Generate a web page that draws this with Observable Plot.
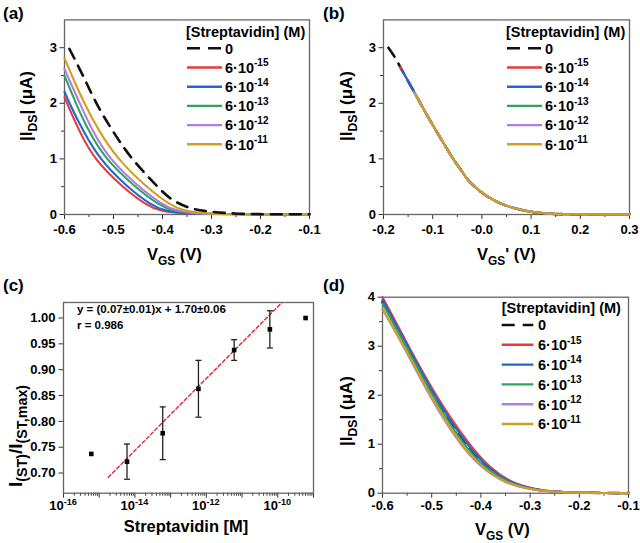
<!DOCTYPE html>
<html><head><meta charset="utf-8">
<script src="https://cdn.jsdelivr.net/npm/d3@7"></script>
<script src="https://cdn.jsdelivr.net/npm/@observablehq/plot@0.6"></script>
<style>
html,body{margin:0;padding:0;background:#fff;}
#fig{position:relative;width:640px;height:543px;overflow:hidden;background:#fff;}
.panel{position:absolute;}
.panel svg{display:block;max-width:none;}
</style></head><body><div id="fig"></div><script>
// ---------- shared ----------
const seriesLabels = ["0", "6·10", "6·10", "6·10", "6·10", "6·10"];
const seriesExp = ["", "-15", "-14", "-13", "-12", "-11"];
const seriesColors = ["#111111", "#e8393a", "#1f66d9", "#2fa35f", "#b07ee0", "#d2a01e"];

// ---------- panel (a): |I_DS| vs V_GS ----------
const aV0 = [-0.59, -0.562, -0.536, -0.502, -0.464, -0.410, -0.386, -0.345, -0.304, -0.253, -0.2, -0.15, -0.1];
const aI0 = [2.98, 2.5, 2.0, 1.5, 1.0, 0.5, 0.28, 0.10, 0.05, 0.013, 0.005, 0.004, 0.003];
const aV1 = [-0.6, -0.595, -0.570, -0.540, -0.483, -0.432, -0.405, -0.371, -0.30, -0.2, -0.1];
const aI1 = [2.11, 2.0, 1.5, 1.0, 0.5, 0.16, 0.07, 0.024, 0.006, 0.003, 0.002];
const aV2 = [-0.6, -0.590, -0.562, -0.529, -0.473, -0.422, -0.395, -0.361, -0.30, -0.2, -0.1];
const aI2 = [2.21, 2.0, 1.5, 1.0, 0.5, 0.16, 0.07, 0.024, 0.006, 0.003, 0.002];
const aV3 = [-0.6, -0.577, -0.551, -0.517, -0.457, -0.406, -0.379, -0.345, -0.29, -0.2, -0.1];
const aI3 = [2.50, 2.0, 1.5, 1.0, 0.5, 0.16, 0.07, 0.024, 0.007, 0.003, 0.002];
const aV4 = [-0.6, -0.569, -0.543, -0.509, -0.449, -0.398, -0.371, -0.337, -0.29, -0.2, -0.1];
const aI4 = [2.62, 2.0, 1.5, 1.0, 0.5, 0.16, 0.07, 0.024, 0.007, 0.003, 0.002];
const aV5 = [-0.6, -0.585, -0.560, -0.530, -0.492, -0.434, -0.383, -0.356, -0.322, -0.28, -0.2, -0.1];
const aI5 = [2.81, 2.5, 2.0, 1.5, 1.0, 0.5, 0.16, 0.07, 0.024, 0.008, 0.003, 0.002];
const aXTicks = [-0.6, -0.5, -0.4, -0.3, -0.2, -0.1];
const aXTickLabels = ["-0.6", "-0.5", "-0.4", "-0.3", "-0.2", "-0.1"];
const aXMinor = [-0.55, -0.45, -0.35, -0.25, -0.15];
const abYTicks = [0, 1, 2, 3];
const abYTickLabels = ["0", "1", "2", "3"];
const abYMinor = [0.5, 1.5, 2.5];

// ---------- panel (b): |I_DS| vs V_GS' ----------
const bMasterV = [-0.164, -0.150, -0.130, -0.113, -0.096, -0.079, -0.062, -0.045, -0.029, -0.012, 0.005, 0.022, 0.039, 0.056, 0.073, 0.090, 0.107, 0.125, 0.148, 0.2, 0.25, 0.3];
const bMasterI = [2.62, 2.40, 2.08, 1.81, 1.55, 1.30, 1.05, 0.83, 0.63, 0.48, 0.36, 0.27, 0.195, 0.14, 0.10, 0.065, 0.04, 0.022, 0.01, 0.004, 0.003, 0.003];
const bDashTopV = [-0.19, -0.175];
const bDashTopI = [3.00, 2.80];
const bStartV = [-0.175, -0.166, -0.163, -0.139, -0.137, -0.136];
const bStartI = [2.80, 2.65, 2.605, 2.22, 2.19, 2.17];
const bXTicks = [-0.2, -0.1, 0.0, 0.1, 0.2, 0.3];
const bXTickLabels = ["-0.2", "-0.1", "-0.0", "0.1", "0.2", "0.3"];
const bXMinor = [-0.15, -0.05, 0.05, 0.15, 0.25];

// ---------- panel (c): calibration ----------
const cConc = [6e-16, 6e-15, 6e-14, 6e-13, 6e-12, 6e-11, 6e-10];
const cRatio = [0.737, 0.722, 0.777, 0.863, 0.938, 0.978, 1.000];
const cErr = [null, 0.034, 0.051, 0.055, 0.020, 0.036, null];
const cFitX = [1.8e-15, 1.3e-10];
const cFitY = [0.692, 1.030];
const cYTicks = [0.70, 0.75, 0.80, 0.85, 0.90, 0.95, 1.00];
const cYTickLabels = ["0.70", "0.75", "0.80", "0.85", "0.90", "0.95", "1.00"];
const cXLabelTicks = [1e-16, 1e-14, 1e-12, 1e-10];
const cXLabelExp = ["-16", "-14", "-12", "-10"];
const cXDecades = [1e-16, 1e-15, 1e-14, 1e-13, 1e-12, 1e-11, 1e-10, 1e-9];
const cEquation = "y = (0.07±0.01)x + 1.70±0.06";
const cR = "r = 0.986";

// ---------- panel (d): |I_DS| vs V_GS (second device) ----------
const dV0 = [-0.6, -0.551, -0.498, -0.434, -0.389, -0.342, -0.296, -0.254, -0.2, -0.15, -0.1];
const dI0 = [3.90, 3.0, 2.0, 1.0, 0.5, 0.2, 0.08, 0.03, 0.01, 0.003, 0.002];
const dV1 = [-0.6, -0.547, -0.493, -0.425, -0.381, -0.335, -0.29, -0.25, -0.2, -0.15, -0.1];
const dI1 = [4.00, 3.0, 2.0, 1.0, 0.5, 0.2, 0.08, 0.03, 0.01, 0.003, 0.002];
const dV2 = [-0.6, -0.549, -0.496, -0.430, -0.385, -0.339, -0.293, -0.252, -0.2, -0.15, -0.1];
const dI2 = [3.95, 3.0, 2.0, 1.0, 0.5, 0.2, 0.08, 0.03, 0.01, 0.003, 0.002];
const dV3 = [-0.6, -0.552, -0.500, -0.437, -0.391, -0.344, -0.298, -0.256, -0.2, -0.15, -0.1];
const dI3 = [3.87, 3.0, 2.0, 1.0, 0.5, 0.2, 0.08, 0.03, 0.01, 0.003, 0.002];
const dV4 = [-0.6, -0.557, -0.506, -0.444, -0.398, -0.350, -0.303, -0.259, -0.2, -0.15, -0.1];
const dI4 = [3.75, 3.0, 2.0, 1.0, 0.5, 0.2, 0.08, 0.03, 0.01, 0.003, 0.002];
const dV5 = [-0.6, -0.556, -0.504, -0.442, -0.396, -0.348, -0.301, -0.258, -0.2, -0.15, -0.1];
const dI5 = [3.77, 3.0, 2.0, 1.0, 0.5, 0.2, 0.08, 0.03, 0.01, 0.003, 0.002];
const dYTicks = [0, 1, 2, 3, 4];
const dYTickLabels = ["0", "1", "2", "3", "4"];
const dYMinor = [0.5, 1.5, 2.5, 3.5];

// ---------- helpers ----------
const FONT = '"Liberation Sans", Arial, Helvetica, sans-serif';
const fig = document.getElementById("fig");
const baseStyle = {fontFamily: FONT, fontSize: "13px", fontWeight: "bold", color: "#000", background: "transparent", overflow: "visible"};
const AXIS_STROKE = "#333";
const FRAME_STROKE = "#666";

function rows(vs, is, k) { return vs.map((v, j) => ({v, i: is[j], k})); }
function lookup(ticks, labels) { return d => labels[ticks.indexOf(d)]; }

function place(svg, left, top) {
  const wrap = document.createElement("div");
  wrap.className = "panel";
  wrap.style.left = left + "px";
  wrap.style.top = top + "px";
  wrap.appendChild(svg);
  fig.appendChild(wrap);
  return svg;
}

function rich(svg, x, y, parts, size, anchor = "start", rotate = 0) {
  const t = d3.select(svg).append("text")
    .attr("transform", `translate(${x},${y}) rotate(${rotate})`)
    .attr("text-anchor", anchor)
    .attr("font-family", FONT).attr("font-weight", "bold")
    .attr("font-size", size).attr("fill", "#000");
  let shift = 0;
  for (const [s, kind, scale] of parts) {
    const sub = scale || 0.72;
    const target = kind === "sub" ? size * 0.28 : kind === "sup" ? -size * 0.42 : 0;
    const ts = t.append("tspan").attr("dy", target - shift).text(s);
    if (kind) ts.attr("font-size", size * sub);
    shift = target;
  }
  return t;
}

function legend(svg, x0, yTitle, rowY0, rowStep, lx1, lx2, tx) {
  const g = d3.select(svg).append("g")
    .attr("text-anchor", "start")
    .attr("font-family", FONT).attr("font-weight", "bold").attr("font-size", 14.5).attr("fill", "#000");
  g.append("text").attr("x", x0).attr("y", yTitle).text("[Streptavidin] (M)");
  seriesLabels.forEach((lab, k) => {
    const y = rowY0 + k * rowStep;
    g.append("line").attr("x1", lx1).attr("x2", lx2).attr("y1", y).attr("y2", y)
      .attr("stroke", seriesColors[k]).attr("stroke-width", k === 0 ? 2.6 : 2.4)
      .attr("stroke-dasharray", k === 0 ? "13,8" : null);
    const t = g.append("text").attr("x", tx).attr("y", y + 5.3);
    t.append("tspan").text(lab);
    if (seriesExp[k]) t.append("tspan").attr("dy", -6.5).attr("font-size", 10).text(seriesExp[k]);
  });
}

function curveMarks(seriesRows, curve) {
  return seriesRows.map((r, k) => Plot.line(r, {
    x: "v", y: "i", stroke: seriesColors[k],
    strokeWidth: k === 0 ? 2.6 : 2.1,
    strokeDasharray: k === 0 ? "11,8" : null,
    curve, strokeLinejoin: "round"
  }));
}

function ivAxes(xTicks, xLabels, xMinor, yTicks, yLabels, yMinor, xPad) {
  return [
    Plot.axisX({ticks: xTicks, tickFormat: lookup(xTicks, xLabels), tickSize: 5, tickPadding: xPad, stroke: AXIS_STROKE, label: null}),
    Plot.axisX({ticks: xMinor, tickFormat: () => "", tickSize: 3, stroke: AXIS_STROKE, label: null}),
    Plot.axisY({ticks: yTicks, tickFormat: lookup(yTicks, yLabels), tickSize: 4.5, tickPadding: 3, stroke: AXIS_STROKE, label: null}),
    Plot.axisY({ticks: yMinor, tickFormat: () => "", tickSize: 3, stroke: AXIS_STROKE, label: null})
  ];
}

// ---------- build (a) ----------
{
  const series = [rows(aV0, aI0, 0), rows(aV1, aI1, 1), rows(aV2, aI2, 2), rows(aV3, aI3, 3), rows(aV4, aI4, 4), rows(aV5, aI5, 5)];
  const order = [1, 2, 3, 4, 5, 0];
  const marks = curveMarks(series, "basis");
  const svg = Plot.plot({
    width: 320, height: 270,
    marginLeft: 64, marginRight: 11, marginTop: 19.4, marginBottom: 56,
    style: baseStyle,
    x: {domain: [-0.6, -0.1]},
    y: {domain: [0, 3.5]},
    marks: [
      ...ivAxes(aXTicks, aXTickLabels, aXMinor, abYTicks, abYTickLabels, abYMinor, 5),
      Plot.frame({stroke: FRAME_STROKE, strokeWidth: 1.3}),
      ...order.map(k => marks[k])
    ]
  });
  place(svg, 0, 0);
  legend(svg, 186, 36.5, 48.3, 19.2, 187, 222, 225);
  rich(svg, 32, 106, [["|I", ""], ["DS", "sub"], ["| (μA)", ""]], 17, "middle", -90);
  rich(svg, 147, 260, [["V", ""], ["GS", "sub"], [" (V)", ""]], 16.5);
  rich(svg, 3, 19, [["(a)", ""]], 17);
}

// ---------- build (b) ----------
{
  const series = bStartV.map((s, k) => {
    const head = k === 0 ? rows(bDashTopV, bDashTopI, 0) : [{v: s, i: bStartI[k], k}];
    const tail = rows(bMasterV, bMasterI, k).filter(d => d.v > s + 1e-9);
    return head.concat(tail);
  });
  const marks = curveMarks(series, "monotone-x");
  const svg = Plot.plot({
    width: 320, height: 270,
    marginLeft: 63, marginRight: 11, marginTop: 19.4, marginBottom: 56,
    style: baseStyle,
    x: {domain: [-0.2, 0.3]},
    y: {domain: [0, 3.5]},
    marks: [
      ...ivAxes(bXTicks, bXTickLabels, bXMinor, abYTicks, abYTickLabels, abYMinor, 5),
      Plot.frame({stroke: FRAME_STROKE, strokeWidth: 1.3}),
      ...marks
    ]
  });
  place(svg, 320, 0);
  legend(svg, 186, 36.5, 48.3, 19.2, 187, 222, 225);
  rich(svg, 32, 106, [["|I", ""], ["DS", "sub"], ["| (μA)", ""]], 17, "middle", -90);
  rich(svg, 157, 260, [["V", ""], ["GS", "sub"], ["' (V)", ""]], 16.5);
  rich(svg, 3, 19, [["(b)", ""]], 17);
}

// ---------- build (c) ----------
{
  const pts = cConc.map((c, j) => ({c, r: cRatio[j], e: cErr[j]}));
  const withErr = pts.filter(d => d.e != null);
  const fit = cFitX.map((x, j) => ({x, y: cFitY[j]}));
  const cap = {draw(ctx, size) { const w = Math.sqrt(size / Math.PI); ctx.moveTo(-w, 0); ctx.lineTo(w, 0); }};
  const minor = [];
  for (const d of cXDecades.slice(0, -1)) for (let m = 2; m <= 9; m++) minor.push(m * d);
  const svg = Plot.plot({
    width: 320, height: 273,
    marginLeft: 63, marginRight: 7, marginTop: 32, marginBottom: 50.3,
    style: baseStyle,
    x: {type: "log", domain: [1e-16, 1e-9]},
    y: {domain: [0.661, 1.030]},
    marks: [
      Plot.axisX({ticks: cXDecades, tickFormat: () => "", tickSize: 5, stroke: AXIS_STROKE, label: null}),
      Plot.axisX({ticks: minor, tickFormat: () => "", tickSize: 3, stroke: AXIS_STROKE, label: null}),
      Plot.axisY({ticks: cYTicks, tickFormat: lookup(cYTicks, cYTickLabels), tickSize: 4.5, tickPadding: 3.5, stroke: AXIS_STROKE, label: null}),
      Plot.frame({stroke: FRAME_STROKE, strokeWidth: 1.3}),
      Plot.line(fit, {x: "x", y: "y", stroke: "#e8262a", strokeWidth: 1.4, strokeDasharray: "3.5,2.5"}),
      Plot.ruleX(withErr, {x: "c", y1: d => d.r - d.e, y2: d => d.r + d.e, stroke: "#222", strokeWidth: 1.3}),
      Plot.dot(withErr, {x: "c", y: d => d.r - d.e, symbol: cap, r: 3, stroke: "#222", strokeWidth: 1.3, fill: "none"}),
      Plot.dot(withErr, {x: "c", y: d => d.r + d.e, symbol: cap, r: 3, stroke: "#222", strokeWidth: 1.3, fill: "none"}),
      Plot.dot(pts, {x: "c", y: "r", symbol: "square", r: 2.6, fill: "#000", stroke: "none"})
    ]
  });
  place(svg, 0, 270);
  const sx = svg.scale("x");
  cXLabelTicks.forEach((v, j) => {
    rich(svg, sx.apply(v), 240, [["10", ""], [cXLabelExp[j], "sup", 0.7]], 13, "middle");
  });
  rich(svg, 77, 43, [[cEquation, ""]], 11.5);
  rich(svg, 77, 58.5, [[cR, ""]], 11.5);
  rich(svg, 22, 166, [["I", ""], ["(ST)", "sub", 0.75], ["/I", ""], ["(ST,max)", "sub", 0.75]], 19, "middle", -90);
  rich(svg, 186, 262, [["Streptavidin [M]", ""]], 16.5, "middle");
  rich(svg, 3, 21, [["(c)", ""]], 17);
}

// ---------- build (d) ----------
{
  const series = [rows(dV0, dI0, 0), rows(dV1, dI1, 1), rows(dV2, dI2, 2), rows(dV3, dI3, 3), rows(dV4, dI4, 4), rows(dV5, dI5, 5)];
  const marks = curveMarks(series, "basis");
  const svg = Plot.plot({
    width: 320, height: 273,
    marginLeft: 62, marginRight: 12, marginTop: 26.7, marginBottom: 50.3,
    style: baseStyle,
    x: {domain: [-0.6, -0.1]},
    y: {domain: [0, 4]},
    marks: [
      ...ivAxes(aXTicks, aXTickLabels, aXMinor, dYTicks, dYTickLabels, dYMinor, 2.5),
      Plot.frame({stroke: FRAME_STROKE, strokeWidth: 1.3}),
      ...marks
    ]
  });
  place(svg, 320, 270);
  legend(svg, 181.7, 42.7, 55, 19.8, 181.7, 213.3, 218);
  rich(svg, 32, 141, [["|I", ""], ["DS", "sub"], ["| (μA)", ""]], 17, "middle", -90);
  rich(svg, 155, 265, [["V", ""], ["GS", "sub"], [" (V)", ""]], 16.5);
  rich(svg, 3, 21, [["(d)", ""]], 17);
}
</script></body></html>
